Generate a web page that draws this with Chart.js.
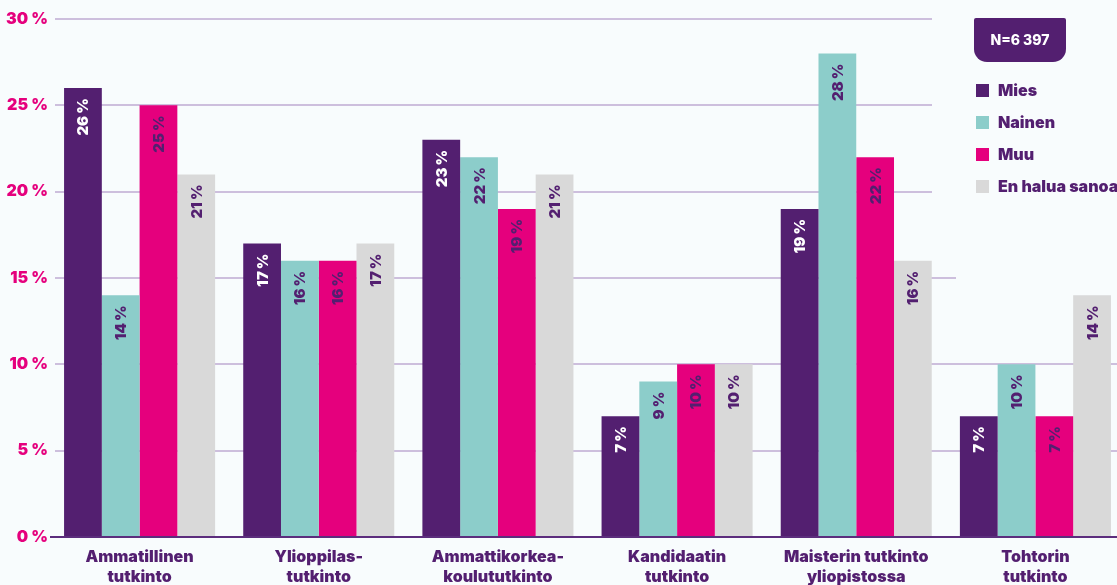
<!DOCTYPE html>
<html>
<head>
<meta charset="utf-8">
<script src="https://cdn.jsdelivr.net/npm/chart.js@4"></script>
<style>
  html, body { margin: 0; padding: 0; background: #f8fcfd; overflow: hidden; }
  #wrap { width: 1125px; height: 585px; }
</style>
</head>
<body>
<div id="wrap"><canvas id="eduChart" width="1125" height="585"></canvas></div>
<script>
var categories = [
    ['Ammatillinen', 'tutkinto'],
    ['Ylioppilas-', 'tutkinto'],
    ['Ammattikorkea-', 'koulututkinto'],
    ['Kandidaatin', 'tutkinto'],
    ['Maisterin tutkinto', 'yliopistossa'],
    ['Tohtorin', 'tutkinto']
];
var seriesNames = ['Mies', 'Nainen', 'Muu', 'En halua sanoa'];
var mies = [26, 17, 23, 7, 19, 7];
var nainen = [14, 16, 22, 9, 28, 10];
var muu = [25, 16, 19, 10, 22, 7];
var enHalua = [21, 17, 21, 10, 16, 14];
var sampleNote = 'N=6 397';

var PURPLE = '#531f70';
var TEAL = '#8ccdca';
var PINK = '#e5007d';
var GREY = '#d9d9d9';
var BG = '#f8fcfd';
var FONT = 'Inter, Lato, sans-serif';

// bg patch where the legend sits + rotated value labels
var decorPlugin = {
    id: 'decor',
    beforeDatasetsDraw: function (chart) {
        var ctx = chart.ctx;
        ctx.save();
        ctx.fillStyle = BG;
        ctx.fillRect(932, 0, 300, 265);
        ctx.fillRect(956, 265, 300, 25);
        ctx.fillRect(48, 0, 7, chart.chartArea.bottom - 2);
        ctx.restore();
    },
    afterDatasetsDraw: function (chart) {
        var ctx = chart.ctx;
        ctx.save();
        ctx.font = '900 15px ' + FONT;
        ctx.textAlign = 'right';
        ctx.textBaseline = 'middle';
        chart.data.datasets.forEach(function (ds, i) {
            var meta = chart.getDatasetMeta(i);
            meta.data.forEach(function (bar, j) {
                ctx.save();
                ctx.translate(bar.x, bar.y + 10);
                ctx.rotate(-Math.PI / 2);
                ctx.fillStyle = i === 0 ? '#ffffff' : PURPLE;
                ctx.fillText(ds.data[j] + '\u2009%', 0, 1);
                ctx.restore();
            });
        });

        // legend
        ctx.fillStyle = PURPLE;
        ctx.beginPath();
        ctx.roundRect(974, 18, 92, 44, [2, 2, 13, 13]);
        ctx.fill();
        ctx.fillStyle = '#ffffff';
        ctx.textAlign = 'center';
        ctx.font = '800 14px ' + FONT;
        ctx.fillText(sampleNote, 1020, 41);

        ctx.textAlign = 'left';
        ctx.font = '900 16px ' + FONT;
        chart.data.datasets.forEach(function (ds, i) {
            var cy = 90 + i * 32;
            ctx.fillStyle = ds.backgroundColor;
            ctx.fillRect(976, cy - 6, 13, 13);
            ctx.fillStyle = PURPLE;
            ctx.fillText(ds.label, 998, cy + 1);
        });
        ctx.restore();
    }
};

var config = {
    type: 'bar',
    data: {
        labels: categories,
        datasets: [
            { label: seriesNames[0], data: mies, backgroundColor: PURPLE },
            { label: seriesNames[1], data: nainen, backgroundColor: TEAL },
            { label: seriesNames[2], data: muu, backgroundColor: PINK },
            { label: seriesNames[3], data: enHalua, backgroundColor: GREY }
        ]
    },
    options: {
        responsive: false,
        animation: false,
        layout: { padding: { top: 19, left: 0, right: 0, bottom: 0 } },
        datasets: {
            bar: { categoryPercentage: 0.843, barPercentage: 1.0 }
        },
        scales: {
            x: {
                grid: { display: false },
                border: { display: false },
                ticks: {
                    color: PURPLE,
                    font: { family: FONT, size: 16, weight: 900, lineHeight: 1.25 },
                    padding: 2,
                    maxRotation: 0,
                    autoSkip: false
                },
                afterFit: function (scale) { scale.height = 48; }
            },
            y: {
                min: 0,
                max: 30,
                border: { display: false },
                grid: {
                    drawTicks: false,
                    color: function (c) { return c.tick.value === 0 ? '#5c2d7d' : '#cdbfdd'; },
                    lineWidth: 2
                },
                ticks: {
                    stepSize: 5,
                    color: PINK,
                    padding: 2,
                    font: { family: FONT, size: 16, weight: 900 },
                    callback: function (v) { return v + ' %'; }
                },
                afterFit: function (scale) { scale.width = 50; }
            }
        },
        plugins: {
            legend: { display: false },
            tooltip: { enabled: false }
        }
    },
    plugins: [decorPlugin]
};

var ctx = document.getElementById('eduChart').getContext('2d');
var chart = new Chart(ctx, config);
</script>
</body>
</html>
